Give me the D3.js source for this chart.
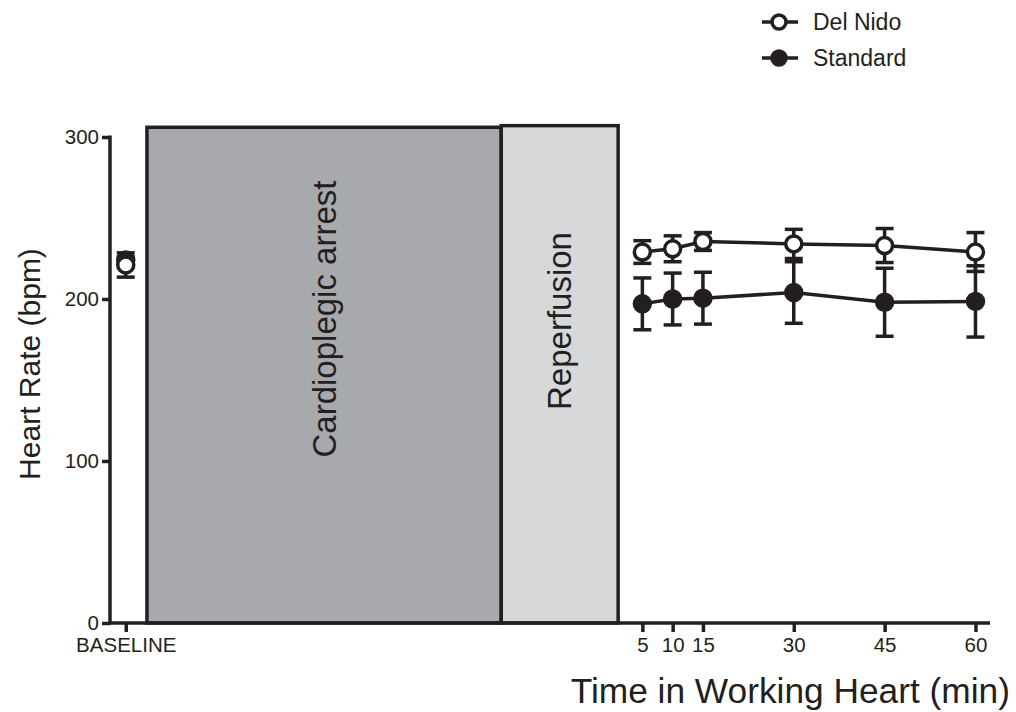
<!DOCTYPE html>
<html>
<head>
<meta charset="utf-8">
<script src="https://cdn.jsdelivr.net/npm/d3@7"></script>
<style>
  body { margin: 0; background: #fff; }
  svg { display: block; font-family: "Liberation Sans", Arial, sans-serif; }
</style>
</head>
<body>
<svg id="chart" width="1016" height="712"></svg>
<script>
// time points in working heart (min)
const timePoints = [5, 10, 15, 30, 45, 60];
const delNidoMean = [229, 231, 235.5, 234, 233, 229];
const delNidoErr = [7, 8, 5.5, 9, 10.5, 12];
const standardMean = [197, 200, 200.5, 204, 198, 198.5];
const standardErr = [16, 16, 16, 19, 21, 22];

// baseline values [Del Nido, Standard]
const baselineMean = [221, 224];
const baselineErr = [7.5, 2];

const yTicks = [0, 100, 200, 300];
const seriesNames = ['Del Nido', 'Standard'];

// phases before the working heart, in minutes relative to start of working heart
const baselineAt = -80.3;
const phases = [
  { label: 'Cardioplegic arrest', start: -76.8, end: -18.3, top: 306, fill: '#a7a9ac' },
  { label: 'Reperfusion', start: -18.3, end: 1, top: 307, fill: '#d7d8da' }
];

const ink = '#231f20';

const svg = d3.select('#chart');

const x = d3.scaleLinear()
  .domain([-82.9, 62.4])
  .range([110, 990]);

const y = d3.scaleLinear()
  .domain([0, 300])
  .range([623, 137]);

// phase boxes
const phase = svg.append('g')
  .selectAll('g')
  .data(phases)
  .enter()
  .append('g');

phase.append('rect')
  .attr('x', d => x(d.start))
  .attr('y', d => y(d.top))
  .attr('width', d => x(d.end) - x(d.start))
  .attr('height', d => y(0) - y(d.top))
  .attr('fill', d => d.fill)
  .attr('stroke', ink)
  .attr('stroke-width', 3.5);

phase.append('text')
  .attr('transform', (d, i) => {
    const cx = (x(d.start) + x(d.end)) / 2;
    const cy = i === 0 ? 319 : 321;
    return 'translate(' + cx + ',' + cy + ') rotate(-90)';
  })
  .attr('text-anchor', 'middle')
  .attr('dy', '0.35em')
  .attr('fill', ink)
  .attr('font-size', 33)
  .text(d => d.label);

// axes
const yAxis = svg.append('g')
  .attr('transform', 'translate(110,0)')
  .call(d3.axisLeft(y).tickValues(yTicks).tickSize(8).tickPadding(3));

const xAxis = svg.append('g')
  .attr('transform', 'translate(0,' + y(0) + ')')
  .call(d3.axisBottom(x)
    .tickValues([baselineAt].concat(timePoints))
    .tickFormat(d => d === baselineAt ? 'BASELINE' : d)
    .tickSize(9)
    .tickPadding(5));

[yAxis, xAxis].forEach(ax => {
  ax.select('.domain')
    .attr('stroke', ink)
    .attr('stroke-width', 3.5);
  ax.selectAll('.tick line')
    .attr('stroke', ink)
    .attr('stroke-width', 3.5);
  ax.selectAll('.tick text')
    .attr('fill', ink)
    .attr('font-size', 20.5)
    .attr('font-family', '"Liberation Sans", Arial, sans-serif');
});

// y axis domain without outer tick stubs
yAxis.select('.domain')
  .attr('d', 'M0,' + (y(300) - 1.5) + 'V' + (y(0) + 1.5));
xAxis.select('.domain')
  .attr('d', 'M108.5,0H' + x(62.4));

// axis titles
svg.append('text')
  .attr('transform', 'translate(40,364) rotate(-90)')
  .attr('text-anchor', 'middle')
  .attr('fill', ink)
  .attr('font-size', 30)
  .text('Heart Rate (bpm)');

svg.append('text')
  .attr('x', 1010)
  .attr('y', 703)
  .attr('text-anchor', 'end')
  .attr('fill', ink)
  .attr('font-size', 35.3)
  .text('Time in Working Heart (min)');

// series
const series = [
  { name: 'Standard', mean: standardMean, err: standardErr, base: 1, fill: ink },
  { name: 'Del Nido', mean: delNidoMean, err: delNidoErr, base: 0, fill: '#fff' }
];

const line = d3.line()
  .x(d => x(d.t))
  .y(d => y(d.v));

const capW = 9;

series.forEach(s => {
  const pts = timePoints.map((t, i) => ({ t: t, v: s.mean[i], e: s.err[i] }));
  pts.unshift({ t: baselineAt, v: baselineMean[s.base], e: baselineErr[s.base], base: true });

  const g = svg.append('g');

  g.append('path')
    .datum(pts.filter(d => !d.base))
    .attr('d', line)
    .attr('fill', 'none')
    .attr('stroke', ink)
    .attr('stroke-width', 3.5);

  const bar = g.selectAll('g.err')
    .data(pts)
    .enter()
    .append('g')
    .attr('class', 'err');

  bar.append('line')
    .attr('x1', d => x(d.t))
    .attr('x2', d => x(d.t))
    .attr('y1', d => y(d.v + d.e))
    .attr('y2', d => y(d.v - d.e))
    .attr('stroke', ink)
    .attr('stroke-width', 3.5);

  [1, -1].forEach(sign => {
    bar.append('line')
      .attr('x1', d => x(d.t) - capW)
      .attr('x2', d => x(d.t) + capW)
      .attr('y1', d => y(d.v + sign * d.e))
      .attr('y2', d => y(d.v + sign * d.e))
      .attr('stroke', ink)
      .attr('stroke-width', 3.5);
  });

  g.selectAll('circle')
    .data(pts)
    .enter()
    .append('circle')
    .attr('cx', d => x(d.t))
    .attr('cy', d => y(d.v))
    .attr('r', 8)
    .attr('fill', s.fill)
    .attr('stroke', ink)
    .attr('stroke-width', 3.5);
});

// legend
const legend = svg.append('g')
  .selectAll('g')
  .data(seriesNames)
  .enter()
  .append('g')
  .attr('transform', (d, i) => 'translate(762,' + (22 + i * 36) + ')');

legend.append('line')
  .attr('x1', 0)
  .attr('x2', 36)
  .attr('stroke', ink)
  .attr('stroke-width', 3.5);

legend.append('circle')
  .attr('cx', 17)
  .attr('r', 7)
  .attr('fill', (d, i) => i === 0 ? '#fff' : ink)
  .attr('stroke', ink)
  .attr('stroke-width', 3.5);

legend.append('text')
  .attr('x', 51)
  .attr('dy', '0.35em')
  .attr('fill', ink)
  .attr('font-size', 23)
  .text(d => d);
</script>
</body>
</html>
